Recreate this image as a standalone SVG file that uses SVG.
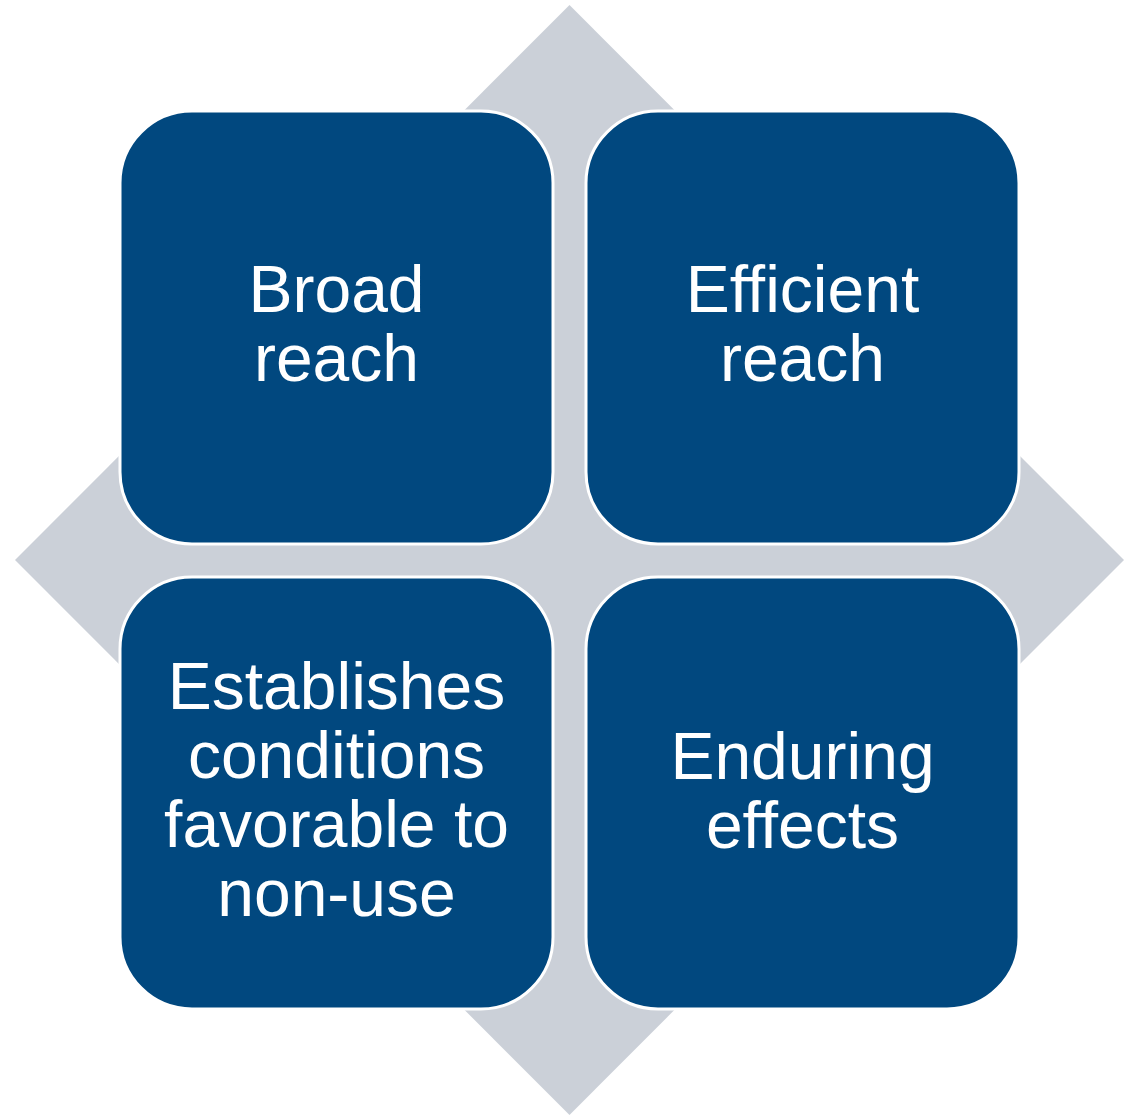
<svg xmlns="http://www.w3.org/2000/svg" width="1133" height="1115" viewBox="0 0 1133 1115">
  <style>
    .tile { fill: #01487F; stroke: #FFFFFF; stroke-width: 3; }
    .label { fill: #FFFFFF; font-family: "Liberation Sans", Arial, sans-serif; font-size: 66px; text-anchor: middle; }
  </style>
  <rect width="1133" height="1115" fill="#FFFFFF"/>
  <!-- background diamond -->
  <g id="backdrop">
    <polygon points="569.5,5 1124,560 569.5,1115 15,560" fill="#CBD0D8"/>
  </g>
  <g id="connectors"></g>
  <g id="broad-reach">
    <rect class="tile" x="120" y="111" width="433" height="433" rx="72" ry="72"/>
    <text class="label" x="336.5" y="312">Broad</text>
    <text class="label" x="336.5" y="381">reach</text>
  </g>
  <g id="efficient-reach">
    <rect class="tile" x="586" y="111" width="433" height="433" rx="72" ry="72"/>
    <text class="label" x="802.5" y="312">Efficient</text>
    <text class="label" x="802.5" y="381">reach</text>
  </g>
  <g id="establishes-conditions">
    <rect class="tile" x="120" y="577" width="433" height="432" rx="72" ry="72"/>
    <text class="label" x="336.5" y="709">Establishes</text>
    <text class="label" x="336.5" y="778">conditions</text>
    <text class="label" x="336.5" y="847">favorable to</text>
    <text class="label" x="336.5" y="916">non-use</text>
  </g>
  <g id="enduring-effects">
    <rect class="tile" x="586" y="577" width="433" height="432" rx="72" ry="72"/>
    <text class="label" x="802.5" y="779">Enduring</text>
    <text class="label" x="802.5" y="848">effects</text>
  </g>
</svg>
